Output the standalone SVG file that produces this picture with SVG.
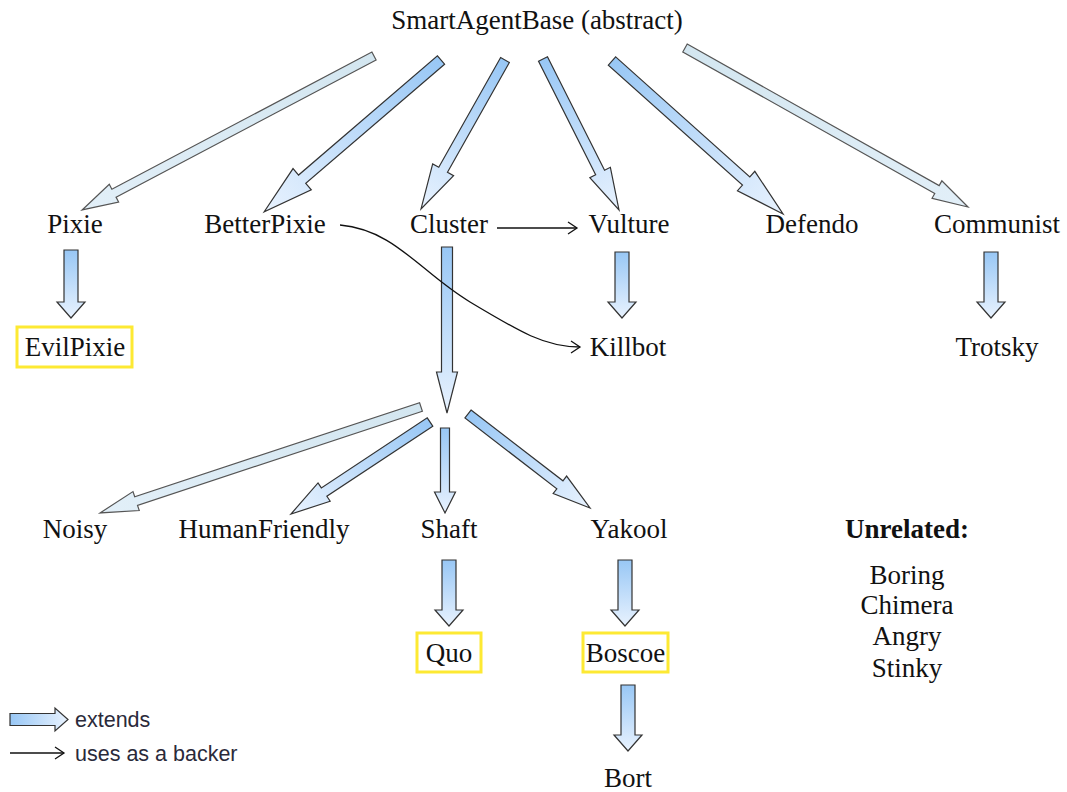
<svg xmlns="http://www.w3.org/2000/svg" width="1067" height="792" viewBox="0 0 1067 792">
<style>
text{font-family:"Liberation Serif","Times New Roman",serif;font-size:27px;fill:#111;text-anchor:middle}
.b{font-weight:bold}
.leg{font-family:"Liberation Sans",Arial,sans-serif;font-size:21.5px;fill:#2a2a3a;text-anchor:start}
.box{fill:none;stroke:#fde933;stroke-width:3}
.ab{fill:url(#gb);stroke:#333;stroke-width:1.2;stroke-linejoin:miter}
.al{fill:url(#gl);stroke:#555;stroke-width:1.2}
.ln{fill:none;stroke:#111;stroke-width:1.3}
</style>
<defs>
<linearGradient id="gb" x1="0" y1="0" x2="1" y2="0"><stop offset="0" stop-color="#98c7f5"/><stop offset="1" stop-color="#e8f2fe"/></linearGradient>
<linearGradient id="gl" x1="0" y1="0" x2="1" y2="0"><stop offset="0" stop-color="#d3e6f0"/><stop offset="1" stop-color="#e2eff8"/></linearGradient>
<marker id="chev" markerWidth="12" markerHeight="14" refX="10" refY="7" orient="auto" markerUnits="userSpaceOnUse"><path d="M1,1 L10,7 L1,13" fill="none" stroke="#111" stroke-width="1.3"/></marker>
</defs>

<g id="connectors">
<!-- extends arrows from SmartAgentBase -->
<path class="al" transform="translate(374,56) rotate(152.19)" d="M0,-4.5 L294,-4.5 L294,-10 L330,0 L294,10 L294,4.5 L0,4.5 Z"/>
<path class="ab" transform="translate(441,60) rotate(139.35)" d="M0,-5.5 L183,-5.5 L183,-14 L233,0 L183,14 L183,5.5 L0,5.5 Z"/>
<path class="ab" transform="translate(505,60) rotate(119.41)" d="M0,-5 L126,-5 L126,-12 L171,0 L126,12 L126,5 L0,5 Z"/>
<path class="ab" transform="translate(543,59) rotate(63.28)" d="M0,-5 L127,-5 L127,-11.5 L169,0 L127,11.5 L127,5 L0,5 Z"/>
<path class="ab" transform="translate(612,61) rotate(41.82)" d="M0,-5.5 L180,-5.5 L180,-13 L229.5,0 L180,13 L180,5.5 L0,5.5 Z"/>
<path class="al" transform="translate(685,48) rotate(29.33)" d="M0,-4.5 L289,-4.5 L289,-10 L324.6,0 L289,10 L289,4.5 L0,4.5 Z"/>
<!-- vertical extends -->
<path class="ab" transform="translate(71,250) rotate(90)" d="M0,-7 L52,-7 L52,-14 L68,0 L52,14 L52,7 L0,7 Z"/>
<path class="ab" transform="translate(622,252) rotate(90)" d="M0,-7 L50,-7 L50,-14 L66,0 L50,14 L50,7 L0,7 Z"/>
<path class="ab" transform="translate(991,252) rotate(90)" d="M0,-7 L50,-7 L50,-14 L66,0 L50,14 L50,7 L0,7 Z"/>
<path class="ab" transform="translate(447,247) rotate(90)" d="M0,-5.5 L125,-5.5 L125,-10.5 L166,0 L125,10.5 L125,5.5 L0,5.5 Z"/>
<!-- second level -->
<path class="al" transform="translate(421,407) rotate(161.73)" d="M0,-4.5 L300,-4.5 L300,-10 L338,0 L300,10 L300,4.5 L0,4.5 Z"/>
<path class="ab" transform="translate(430,422) rotate(146.5)" d="M0,-5 L127,-5 L127,-11 L166.7,0 L127,11 L127,5 L0,5 Z"/>
<path class="ab" transform="translate(445,428) rotate(90)" d="M0,-4.5 L64,-4.5 L64,-10.5 L85,0 L64,10.5 L64,4.5 L0,4.5 Z"/>
<path class="ab" transform="translate(468,414) rotate(37.61)" d="M0,-5 L116,-5 L116,-11 L154,0 L116,11 L116,5 L0,5 Z"/>
<!-- third level -->
<path class="ab" transform="translate(449,560) rotate(90)" d="M0,-7 L50,-7 L50,-14 L66,0 L50,14 L50,7 L0,7 Z"/>
<path class="ab" transform="translate(625,560) rotate(90)" d="M0,-7 L50,-7 L50,-14 L66,0 L50,14 L50,7 L0,7 Z"/>
<path class="ab" transform="translate(628,685) rotate(90)" d="M0,-7 L50,-7 L50,-14 L66,0 L50,14 L50,7 L0,7 Z"/>
<!-- uses as a backer -->
<path class="ln" d="M497,228 L577,228" marker-end="url(#chev)"/>
<path class="ln" d="M340,225 C395,230 420,272 470,302 S545,347 580,347" marker-end="url(#chev)"/>
</g>

<g id="SmartAgentBase"><text x="537" y="29">SmartAgentBase (abstract)</text></g>
<g id="Pixie"><text x="75" y="233">Pixie</text></g>
<g id="BetterPixie"><text x="265" y="233">BetterPixie</text></g>
<g id="Cluster"><text x="449" y="233">Cluster</text></g>
<g id="Vulture"><text x="629" y="233">Vulture</text></g>
<g id="Defendo"><text x="812" y="233">Defendo</text></g>
<g id="Communist"><text x="997" y="233">Communist</text></g>
<g id="EvilPixie"><rect class="box" x="17" y="327" width="115" height="40"/><text x="75" y="356">EvilPixie</text></g>
<g id="Killbot"><text x="628" y="356">Killbot</text></g>
<g id="Trotsky"><text x="997" y="356">Trotsky</text></g>
<g id="Noisy"><text x="75" y="538">Noisy</text></g>
<g id="HumanFriendly"><text x="264" y="538">HumanFriendly</text></g>
<g id="Shaft"><text x="449" y="538">Shaft</text></g>
<g id="Yakool"><text x="629" y="538">Yakool</text></g>
<g id="Quo"><rect class="box" x="417" y="633" width="64" height="39"/><text x="449" y="662">Quo</text></g>
<g id="Boscoe"><rect class="box" x="583" y="633" width="85" height="39"/><text x="625.5" y="662">Boscoe</text></g>
<g id="Bort"><text x="628" y="787">Bort</text></g>
<g id="Unrelated">
<text class="b" x="907" y="538">Unrelated:</text>
<text x="907" y="584">Boring</text>
<text x="907" y="614">Chimera</text>
<text x="907" y="645">Angry</text>
<text x="907" y="677">Stinky</text>
</g>
<g id="legend">
<path class="ab" d="M10,713.5 L55,713.5 L55,708 L68,719.5 L55,731 L55,725.5 L10,725.5 Z"/>
<text class="leg" x="75" y="727">extends</text>
<path class="ln" d="M10,753 L64,753" marker-end="url(#chev)"/>
<text class="leg" x="75" y="761">uses as a backer</text>
</g>
</svg>
